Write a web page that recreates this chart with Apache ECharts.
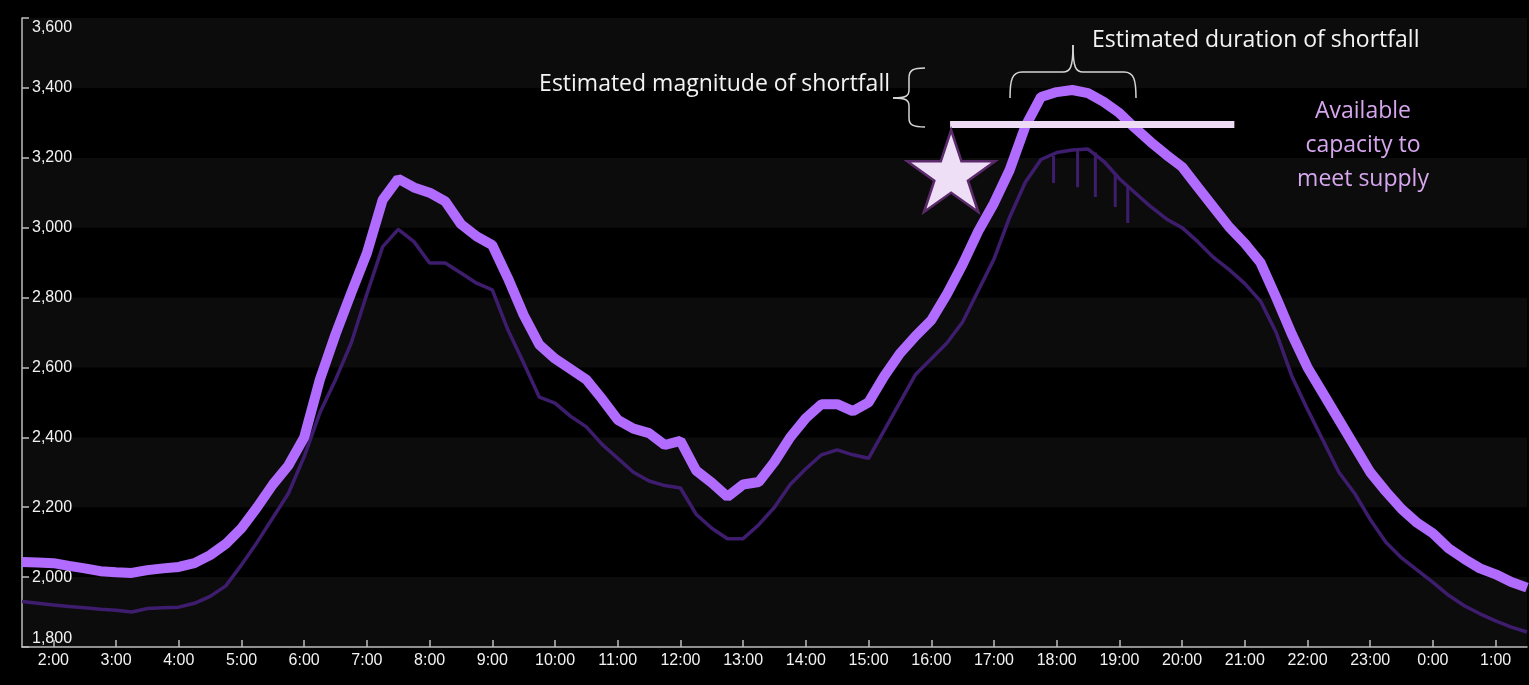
<!DOCTYPE html>
<html><head><meta charset="utf-8">
<script src="https://cdn.jsdelivr.net/npm/echarts@6/dist/echarts.min.js"></script>
<style>html,body{margin:0;padding:0;background:#000;}#c{width:1529px;height:685px;}</style>
</head><body><div id="c"></div>
<script>
const times = ['1:30','1:45','2:00','2:15','2:30','2:45','3:00','3:15','3:30','3:45','4:00','4:15','4:30','4:45','5:00','5:15','5:30','5:45','6:00','6:15','6:30','6:45','7:00','7:15','7:30','7:45','8:00','8:15','8:30','8:45','9:00','9:15','9:30','9:45','10:00','10:15','10:30','10:45','11:00','11:15','11:30','11:45','12:00','12:15','12:30','12:45','13:00','13:15','13:30','13:45','14:00','14:15','14:30','14:45','15:00','15:15','15:30','15:45','16:00','16:15','16:30','16:45','17:00','17:15','17:30','17:45','18:00','18:15','18:30','18:45','19:00','19:15','19:30','19:45','20:00','20:15','20:30','20:45','21:00','21:15','21:30','21:45','22:00','22:15','22:30','22:45','23:00','23:15','23:30','23:45','0:00','0:15','0:30','0:45','1:00','1:15','1:30'];
const demandWithMargin = [2043,2042,2040,2032,2025,2017,2014,2012,2020,2025,2029,2040,2063,2095,2140,2200,2265,2320,2400,2565,2695,2813,2927,3079,3140,3115,3100,3075,3010,2975,2950,2855,2750,2665,2625,2595,2565,2510,2450,2425,2412,2378,2390,2305,2270,2230,2265,2272,2330,2400,2455,2495,2495,2475,2500,2575,2640,2690,2735,2810,2895,2990,3070,3165,3290,3374,3388,3394,3385,3360,3328,3285,3245,3208,3174,3116,3059,3002,2955,2900,2800,2695,2600,2525,2450,2375,2300,2245,2195,2155,2125,2082,2052,2025,2008,1986,1970];
const demand = [1930,1925,1920,1916,1912,1908,1905,1900,1910,1912,1914,1925,1945,1975,2035,2100,2170,2240,2345,2470,2565,2670,2810,2945,2995,2960,2899,2899,2870,2841,2822,2707,2613,2515,2498,2460,2430,2380,2340,2300,2275,2262,2255,2180,2140,2110,2110,2150,2200,2265,2310,2350,2364,2350,2340,2420,2500,2580,2625,2670,2730,2820,2910,3030,3130,3195,3215,3222,3225,3190,3140,3100,3060,3025,3000,2960,2915,2880,2840,2790,2700,2575,2480,2390,2300,2240,2165,2100,2055,2020,1985,1948,1918,1895,1875,1857,1843];
// short downward dips of the demand trace near the evening peak: [time, top, bottom]
const demandDips = [['17:57', 3205, 3128], ['18:20', 3224, 3116], ['18:37', 3215, 3088], ['18:56', 3150, 3059], ['19:08', 3118, 3013]];
const tickLabels = ['2:00','3:00','4:00','5:00','6:00','7:00','8:00','9:00','10:00','11:00','12:00','13:00','14:00','15:00','16:00','17:00','18:00','19:00','20:00','21:00','22:00','23:00','0:00','1:00'];
const capacityLevel = 3295;
const capacityFrom = '16:18', capacityTo = '20:50';
const starAt = ['16:19', 3162];

const START = 90;
function toMin(s){ const p = s.split(':').map(Number); let v = p[0]*60+p[1]; if (v < START) v += 1440; return v; }
function seq(arr){ let prev=-1; return arr.map(s=>{ let p=s.split(':').map(Number); let v=p[0]*60+p[1]; while (v<prev) v+=1440; prev=v; return v; }); }
const xs = seq(times);
const tickVals = tickLabels.map(toMin);
const fmt = v => { const m = ((v%1440)+1440)%1440; return Math.floor(m/60)+':'+String(m%60).padStart(2,'0'); };
const dipData = [];
demandDips.forEach(d => { const t = toMin(d[0]); dipData.push([t, d[1]], [t, d[2]], '-'); });

const axisCol = '#bdbdbd';
const braceStyle = {fill: null, stroke: '#d6d6d6', lineWidth: 1.5};
function curve(x1,y1,c1x,c1y,c2x,c2y,x2,y2){ return {type:'bezierCurve', silent:true, z:100, shape:{x1:x1,y1:y1,cpx1:c1x,cpy1:c1y,cpx2:c2x,cpy2:c2y,x2:x2,y2:y2}, style: braceStyle}; }
function seg(x1,y1,x2,y2){ return {type:'line', silent:true, z:100, shape:{x1:x1,y1:y1,x2:x2,y2:y2}, style: braceStyle}; }

const chart = echarts.init(document.getElementById('c'));
const starPath = 'path://M50,0 L61.2,34.5 L97.6,34.5 L68.2,55.9 L79.4,90.5 L50,69.1 L20.6,90.5 L31.8,55.9 L2.4,34.5 L38.8,34.5 Z';
const darkCol = '#3e1d6e';
chart.setOption({
  backgroundColor: '#000000',
  animation: false,
  grid: {left: 22, right: 2, top: 18, bottom: 38, containLabel: false},
  xAxis: {
    type: 'value', min: toMin('1:30'), max: toMin('1:30') + 1440,
    axisLine: {show: true, lineStyle: {color: axisCol, width: 1.5}},
    axisTick: {show: true, inside: true, length: 7, customValues: tickVals, lineStyle: {color: axisCol, width: 1.5}},
    axisLabel: {customValues: tickVals, formatter: fmt, color: '#f2f2f2', fontFamily: 'Liberation Sans', fontSize: 16, margin: 6},
    splitLine: {show: false}
  },
  yAxis: {
    type: 'value', min: 1800, max: 3600, interval: 200,
    axisLine: {show: true, lineStyle: {color: axisCol, width: 1.5}},
    axisTick: {show: true, inside: true, length: 7, lineStyle: {color: axisCol, width: 1.5}},
    axisLabel: {inside: true, margin: 10, color: '#f2f2f2', fontFamily: 'Liberation Sans', fontSize: 16,
      formatter: v => { const s = v.toLocaleString('en-US'); return v === 3600 ? '{top|' + s + '}' : (v === 1800 ? '{bot|' + s + '}' : s); },
      rich: {
        top: {color: '#f2f2f2', fontFamily: 'Liberation Sans', fontSize: 16, padding: [20, 0, 0, 0]},
        bot: {color: '#f2f2f2', fontFamily: 'Liberation Sans', fontSize: 16, padding: [0, 0, 17, 0]}
      }},
    splitLine: {show: false},
    splitArea: {show: true, areaStyle: {color: ['#0c0c0c', '#000000']}}
  },
  series: [
    {
      name: 'Demand', type: 'line', symbol: 'none', z: 2,
      data: xs.map((x,i)=>[x, demand[i]]),
      lineStyle: {color: darkCol, width: 3.5}
    },
    {
      name: 'Demand dips', type: 'line', symbol: 'none', z: 2, connectNulls: false,
      data: dipData,
      lineStyle: {color: darkCol, width: 3}
    },
    {
      name: 'Demand with margin', type: 'line', symbol: 'none', z: 3,
      data: xs.map((x,i)=>[x, demandWithMargin[i]]),
      lineStyle: {color: '#b16cff', width: 10},
      markLine: {
        silent: true, symbol: 'none', label: {show: false},
        lineStyle: {color: '#eedcf5', width: 7, type: 'solid'},
        data: [[{coord: [toMin(capacityFrom), capacityLevel]}, {coord: [toMin(capacityTo), capacityLevel]}]]
      },
      markPoint: {
        silent: true, symbol: starPath, symbolSize: [88, 82], label: {show: false},
        itemStyle: {color: '#efdff6', borderColor: '#5b2a6b', borderWidth: 2.5},
        data: [{coord: [toMin(starAt[0]), starAt[1]]}]
      }
    }
  ],
  graphic: [
    curve(1010,98, 1010,80, 1012,72, 1022,72),
    seg(1022,72, 1063,72),
    curve(1063,72, 1070,72, 1073,68, 1073,45),
    curve(1073,45, 1073,68, 1076,72, 1083,72),
    seg(1083,72, 1124,72),
    curve(1124,72, 1134,72, 1136,80, 1136,98),
    curve(925,68, 913,68, 909,70, 909,78),
    seg(909,78, 909,90),
    curve(909,90, 909,96, 906,98, 893,98),
    curve(893,98, 906,98, 909,100, 909,106),
    seg(909,106, 909,118),
    curve(909,118, 909,125, 913,127, 925,127),
    {type: 'text', silent: true, z: 100, x: 890, y: 84, style: {text: 'Estimated magnitude of shortfall', fill: '#f4f4f4', fontFamily: 'Open Sans', fontSize: 23, align: 'right', verticalAlign: 'middle'}},
    {type: 'text', silent: true, z: 100, x: 1092, y: 40, style: {text: 'Estimated duration of shortfall', fill: '#f4f4f4', fontFamily: 'Open Sans', fontSize: 23, align: 'left', verticalAlign: 'middle'}},
    {type: 'text', silent: true, z: 100, x: 1363, y: 145, style: {text: 'Available\ncapacity to\nmeet supply', fill: '#d6a6ee', fontFamily: 'Open Sans', fontSize: 23, lineHeight: 34, align: 'center', verticalAlign: 'middle'}}
  ]
});
</script></body></html>
